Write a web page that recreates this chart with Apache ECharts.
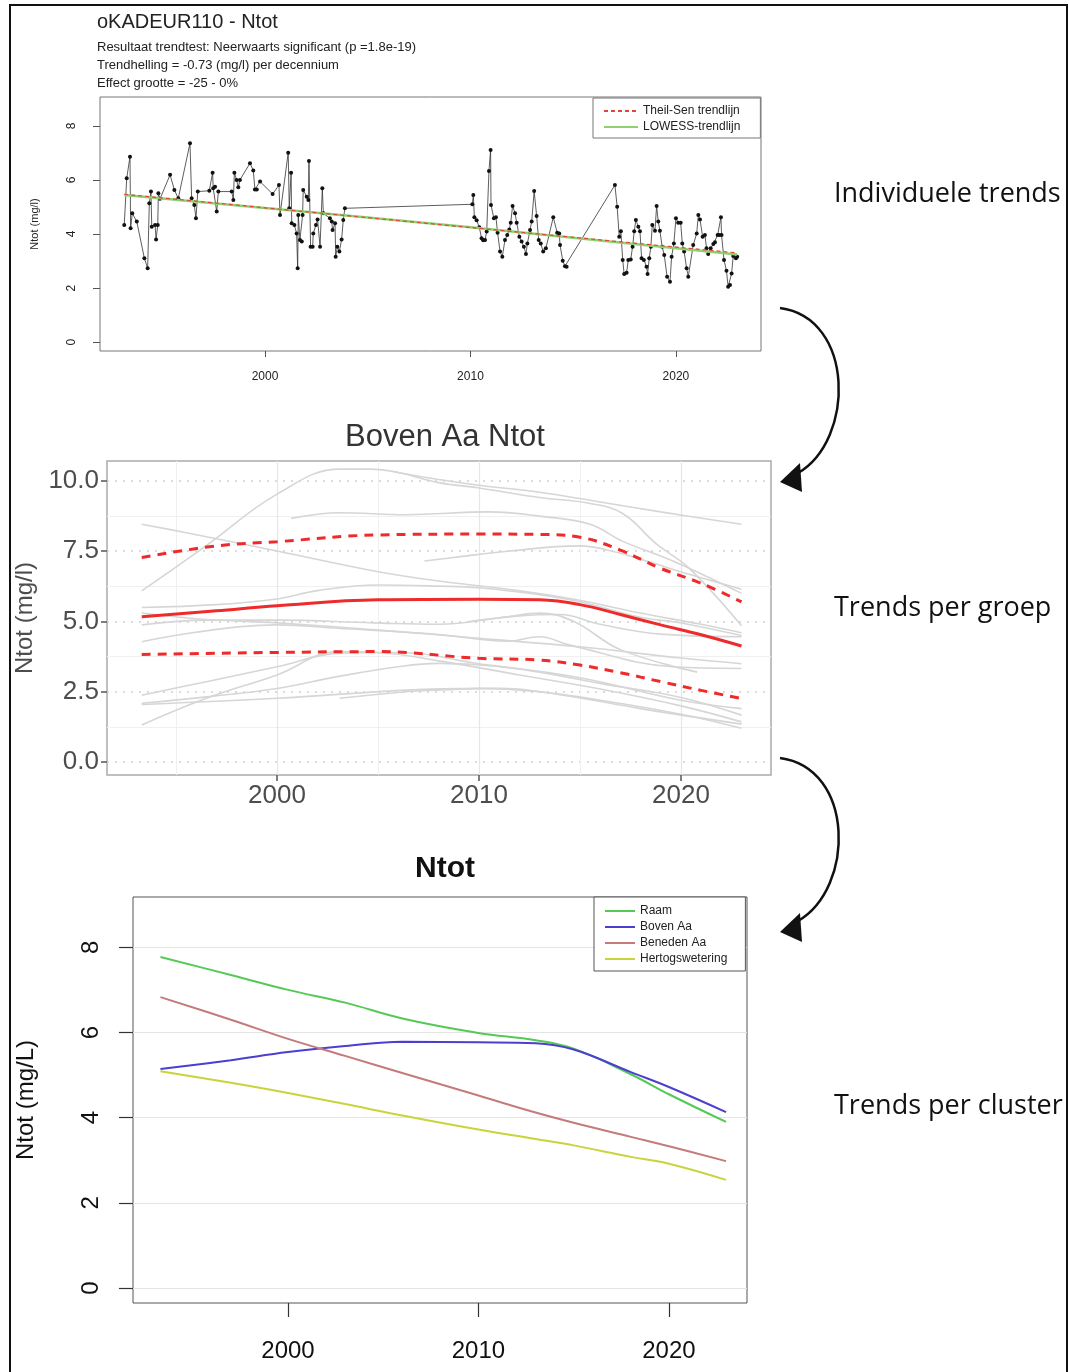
<!DOCTYPE html>
<html>
<head>
<meta charset="utf-8">
<script src="https://cdn.jsdelivr.net/npm/echarts@6/dist/echarts.min.js"></script>
<style>
  html, body { margin: 0; padding: 0; background: #fff; }
  #chart { width: 1069px; height: 1372px; }
</style>
</head>
<body>
<div id="chart"></div>
<script>
// ---- paneel 1: meetpunt oKADEUR110 ----
var obsYear = [1993.15,1993.27,1993.43,1993.46,1993.54,1993.76,1994.13,1994.29,1994.37,1994.45,1994.49,1994.65,1994.70,1994.78,1994.81,1994.89,
  1995.38,1995.59,1995.78,1996.35,1996.43,1996.56,1996.64,1996.73,1997.29,1997.45,1997.48,1997.57,1997.65,1997.73,1998.38,1998.46,1998.51,
  1998.62,1998.70,1998.78,1999.27,1999.43,1999.51,1999.60,1999.76,2000.37,2000.68,2000.73,2001.13,2001.18,2001.27,2001.30,2001.43,2001.54,
  2001.59,2001.62,2001.70,2001.79,2001.83,2001.86,2002.03,2002.11,2002.14,2002.22,2002.32,2002.35,2002.48,2002.56,2002.68,2002.79,2002.84,
  2003.16,2003.25,2003.29,2003.41,2003.44,2003.52,2003.62,2003.73,2003.81,2003.89,
  2010.09,2010.14,2010.19,2010.30,2010.43,2010.54,2010.62,2010.71,2010.79,2010.90,2010.98,2011.00,2011.14,2011.24,2011.32,2011.44,2011.55,
  2011.68,2011.79,2011.89,2011.96,2012.05,2012.17,2012.25,2012.38,2012.49,2012.60,2012.70,2012.77,2012.90,2012.98,2013.10,2013.22,2013.32,
  2013.42,2013.54,2013.67,2014.03,2014.22,2014.32,2014.36,2014.49,2014.60,2014.68,
  2017.03,2017.14,2017.24,2017.32,2017.41,2017.48,2017.60,2017.68,2017.80,2017.89,2017.97,2018.05,2018.17,2018.25,2018.33,2018.44,2018.57,
  2018.62,2018.70,2018.78,2018.85,2018.98,2019.06,2019.14,2019.22,2019.33,2019.43,2019.57,2019.71,2019.79,2019.90,2020.00,2020.11,2020.23,
  2020.31,2020.40,2020.52,2020.60,2020.84,2021.01,2021.09,2021.17,2021.30,2021.41,2021.49,2021.57,2021.69,2021.82,2021.90,2022.03,2022.11,
  2022.19,2022.22,2022.34,2022.46,2022.54,2022.63,2022.71,2022.79,2022.92,2022.98];
var obsNtot = [4.33,6.06,6.86,4.21,4.77,4.46,3.10,2.73,5.14,5.57,4.27,4.33,3.80,4.33,5.51,5.30,
  6.19,5.63,5.32,7.36,5.32,5.07,4.58,5.57,5.60,6.27,5.69,5.75,4.83,5.57,5.57,5.26,6.27,
  6.00,5.73,6.00,6.62,6.35,5.65,5.65,5.94,5.48,5.81,4.70,7.01,4.95,6.27,4.40,4.33,4.02,
  2.73,4.70,3.78,3.72,4.70,5.63,5.38,5.26,6.70,3.53,3.53,4.02,4.33,4.54,3.53,5.69,4.77,
  4.58,4.46,4.15,4.40,3.16,3.53,3.35,3.80,4.52,4.95,
  5.10,5.44,4.62,4.51,4.25,3.84,3.77,3.78,4.09,6.33,7.11,5.07,4.58,4.62,4.05,3.35,3.16,
  3.78,3.96,4.17,4.42,5.04,4.77,4.42,3.90,3.72,3.53,3.26,3.65,4.15,4.46,5.59,4.67,3.78,
  3.65,3.35,3.47,4.62,4.05,4.02,3.59,3.01,2.81,2.79,
  5.81,5.01,3.90,4.10,3.04,2.52,2.57,3.04,3.06,3.53,4.10,4.52,4.27,4.10,3.10,3.04,2.79,
  2.52,3.10,3.53,4.33,4.12,5.04,4.46,4.12,3.53,3.22,2.42,2.23,3.16,3.65,4.58,4.42,4.42,
  3.65,3.35,2.73,2.42,3.59,4.02,4.70,4.54,3.90,3.96,3.47,3.26,3.47,3.63,3.69,3.96,3.96,
  4.62,3.96,3.04,2.64,2.05,2.11,2.54,3.19,3.10,3.16];
var trendYear = [1993.15, 2000, 2010, 2022.98];
var theilSen = [5.47, 4.97, 4.24, 3.30];
var lowess = [5.44, 4.96, 4.25, 3.24];

// ---- paneel 2: Boven Aa, trends per meetpunt ----
var groepYear = [1993.3, 1997, 2000, 2005, 2010, 2013, 2015, 2017, 2019, 2021, 2023];
var groepMediaan = [5.17, 5.38, 5.56, 5.77, 5.79, 5.77, 5.60, 5.25, 4.88, 4.53, 4.13];
var groepBoven = [7.28, 7.69, 7.84, 8.08, 8.11, 8.10, 8.00, 7.54, 6.89, 6.36, 5.70];
var groepOnder = [3.83, 3.87, 3.90, 3.93, 3.69, 3.63, 3.45, 3.18, 2.86, 2.55, 2.26];
var groepLijnen = [
  [[1993.3,6.09],[1996.5,7.7],[2000,9.53],[2003.1,10.42],[2004.6,10.42],[2006,10.3],[2008,9.94],[2010,9.75],[2013,9.41],[2015.5,9.2],[2017.1,8.85],[2018.8,7.75],[2020.4,6.9],[2023,4.85]],
  [[2005.8,10.33],[2008,10.05],[2010,9.85],[2013,9.6],[2016,9.25],[2019,8.9],[2023,8.46]],
  [[1993.3,8.46],[1995.5,8.16],[2000,7.51],[2004.8,6.8],[2008,6.44],[2011.4,6.15],[2014.7,5.79],[2018,5.3],[2021,4.9],[2023,4.6]],
  [[2000.7,8.67],[2003.1,8.87],[2006.4,8.8],[2010.5,8.9],[2013,8.75],[2015.5,8.46],[2017.1,7.86],[2019.6,7.15],[2023,6.0]],
  [[2007.3,7.15],[2009,7.3],[2011.4,7.5],[2015,7.69],[2016.6,7.5],[2018.3,7.15],[2020.4,6.68],[2023,6.15]],
  [[1993.3,5.5],[1997,5.6],[2000,5.8],[2002,6.1],[2005,6.3],[2008,6.26],[2010,6.2],[2013,5.95],[2015,5.7],[2018,5.15],[2020,4.95],[2023,4.5]],
  [[1993.3,4.88],[1996.5,5.05],[2000,5.05],[2004.8,4.95],[2008,4.9],[2011.4,5.17],[2013,5.3],[2014.7,5.0],[2017,4.0],[2020.8,3.2]],
  [[1993.3,4.28],[2000,4.88],[2003,4.76],[2008,4.54],[2011.4,4.3],[2013,4.46],[2014.5,4.16],[2019.6,3.39],[2023,3.33]],
  [[1993.3,5.3],[1996,5.1],[2000,4.95],[2005,4.7],[2010,4.4],[2015,4.1],[2020,3.7],[2023,3.5]],
  [[2009.5,5.0],[2012,5.2],[2014,5.25],[2016,4.9],[2019,4.55],[2023,4.46]],
  [[1993.3,2.38],[1996.5,2.86],[2000,3.39],[2003.1,3.87],[2006,3.9],[2010,3.5],[2013,3.2],[2016,2.8],[2020,2.3],[2023,1.67]],
  [[1993.3,2.09],[1996.5,2.32],[2000,2.62],[2003,3.04],[2006,3.39],[2008,3.51],[2011,3.4],[2015,3.0],[2020,2.2],[2023,1.9]],
  [[1993.3,1.32],[1996.5,2.27],[2000,3.1],[2003,3.93],[2005,3.9],[2008,3.6],[2012,3.1],[2016,2.6],[2020,2.0],[2023,1.43]],
  [[1993.3,2.05],[2000,2.27],[2006.4,2.56],[2010,2.62],[2013,2.5],[2016,2.2],[2020,1.7],[2023,1.2]],
  [[2003.1,2.27],[2006.4,2.5],[2008,2.56],[2011,2.62],[2014,2.4],[2018,1.9],[2023,1.35]]
];

// ---- paneel 3: trends per cluster ----
var clusterYear = [1993.3, 1997, 2000, 2003, 2006, 2010, 2013, 2015, 2018, 2020, 2023];
var clusterNames = ['Raam', 'Boven Aa', 'Beneden Aa', 'Hertogswetering'];
var raam = [7.77, 7.35, 7.00, 6.70, 6.33, 5.99, 5.82, 5.62, 5.02, 4.55, 3.90];
var bovenAa = [5.14, 5.35, 5.54, 5.68, 5.78, 5.77, 5.75, 5.60, 5.07, 4.72, 4.13];
var benedenAa = [6.83, 6.30, 5.85, 5.45, 5.05, 4.52, 4.12, 3.88, 3.55, 3.33, 2.98];
var hertogswetering = [5.09, 4.82, 4.58, 4.32, 4.05, 3.72, 3.50, 3.35, 3.08, 2.92, 2.54];
var clusterColors = ['#55c955', '#4b3fd0', '#c47b7b', '#c9d43d'];

function zip(xs, ys) { return xs.map(function (x, i) { return [x, ys[i]]; }); }

var FONT = 'Liberation Sans';
var redCol = '#ee2a2a';

var chart = echarts.init(document.getElementById('chart'), null, { renderer: 'canvas' });

var series = [];
// paneel 1
series.push({ type: 'line', xAxisIndex: 0, yAxisIndex: 0, data: zip(obsYear, obsNtot),
  symbol: 'circle', symbolSize: 4, itemStyle: { color: '#111' },
  lineStyle: { color: '#333', width: 0.8 }, z: 2 });
series.push({ name: 'LOWESS-trendlijn', type: 'line', xAxisIndex: 0, yAxisIndex: 0, data: zip(trendYear, lowess),
  symbol: 'none', smooth: true, lineStyle: { color: '#8fd16f', width: 2.5 }, itemStyle: { color: '#8fd16f' }, z: 3 });
series.push({ name: 'Theil-Sen trendlijn', type: 'line', xAxisIndex: 0, yAxisIndex: 0, data: zip(trendYear, theilSen),
  symbol: 'none', lineStyle: { color: '#e0463c', width: 1.2, type: [4, 3] }, itemStyle: { color: '#e0463c' }, z: 4 });
// paneel 2
groepLijnen.forEach(function (l) {
  series.push({ type: 'line', xAxisIndex: 1, yAxisIndex: 1, data: l, symbol: 'none', smooth: 0.4,
    lineStyle: { color: '#d6d6d6', width: 1.6 }, silent: true, z: 2 });
});
series.push({ type: 'line', xAxisIndex: 1, yAxisIndex: 1, data: zip(groepYear, groepMediaan), symbol: 'none', smooth: 0.4,
  lineStyle: { color: redCol, width: 3 }, z: 5 });
series.push({ type: 'line', xAxisIndex: 1, yAxisIndex: 1, data: zip(groepYear, groepBoven), symbol: 'none', smooth: 0.4,
  lineStyle: { color: redCol, width: 3, type: [9, 7] }, z: 5 });
series.push({ type: 'line', xAxisIndex: 1, yAxisIndex: 1, data: zip(groepYear, groepOnder), symbol: 'none', smooth: 0.4,
  lineStyle: { color: redCol, width: 3, type: [9, 7] }, z: 5 });
// paneel 3
[raam, bovenAa, benedenAa, hertogswetering].forEach(function (vals, i) {
  series.push({ name: clusterNames[i], type: 'line', xAxisIndex: 3, yAxisIndex: 3, data: zip(clusterYear, vals),
    symbol: 'none', smooth: 0.4, lineStyle: { color: clusterColors[i], width: 2 }, itemStyle: { color: clusterColors[i] }, z: 3 });
});

var yearFmt = function (v) { return String(v); };

option = {
  animation: false,
  textStyle: { fontFamily: FONT },
  title: [
    { text: 'oKADEUR110 - Ntot', left: 92, top: 7, itemGap: 6,
      textStyle: { fontSize: 20, fontWeight: 'normal', color: '#222', fontFamily: FONT },
      subtext: 'Resultaat trendtest: Neerwaarts significant (p =1.8e-19)\nTrendhelling = -0.73 (mg/l) per decennium\nEffect grootte = -25 - 0%',
      subtextStyle: { fontSize: 13, color: '#222', lineHeight: 18, fontFamily: FONT } },
    { text: 'Boven Aa Ntot', left: 440, top: 417, textAlign: 'center',
      textStyle: { fontSize: 31, fontWeight: 'normal', color: '#333', fontFamily: FONT } },
    { text: 'Ntot', left: 440, top: 849, textAlign: 'center',
      textStyle: { fontSize: 30, fontWeight: 'bold', color: '#111', fontFamily: FONT } }
  ],
  legend: [
    { data: ['Theil-Sen trendlijn', 'LOWESS-trendlijn'], left: 593, top: 98, orient: 'vertical',
      selectedMode: false, backgroundColor: '#fff', borderColor: '#777', borderWidth: 1, borderRadius: 0,
      padding: [7, 20, 5, 10], itemGap: 4, itemWidth: 34, itemHeight: 12, itemStyle: { opacity: 0 },
      textStyle: { fontSize: 12, color: '#222', fontFamily: FONT } },
    { data: clusterNames, left: 594, top: 897, orient: 'vertical',
      selectedMode: false, backgroundColor: '#fff', borderColor: '#555', borderWidth: 1, borderRadius: 0,
      padding: [8, 18, 6, 10], itemGap: 4, itemWidth: 30, itemHeight: 12, itemStyle: { opacity: 0 },
      textStyle: { fontSize: 12, color: '#222', fontFamily: FONT } }
  ],
  grid: [
    { left: 100, top: 97, width: 661, height: 254, show: true, borderColor: '#777', borderWidth: 1, backgroundColor: '#fff' },
    { left: 107, top: 461, width: 664, height: 314, show: true, borderColor: '#aaa', borderWidth: 1.5, backgroundColor: '#fff' },
    { left: 133, top: 897, width: 614, height: 406, show: true, borderColor: '#555', borderWidth: 1, backgroundColor: '#fff' }
  ],
  xAxis: [
    { type: 'value', gridIndex: 0, min: 1991.97, max: 2024.14,
      axisLine: { show: false, onZero: false }, splitLine: { show: false },
      axisTick: { customValues: [2000, 2010, 2020], length: 6, lineStyle: { color: '#555' } },
      axisLabel: { customValues: [2000, 2010, 2020], formatter: yearFmt, fontSize: 12, color: '#222', margin: 20 } },
    { type: 'value', gridIndex: 1, min: 1991.58, max: 2024.46,
      axisLine: { show: false, onZero: false },
      axisTick: { customValues: [2000, 2010, 2020], length: 6, lineStyle: { color: '#555', width: 1.5 } },
      splitLine: { show: true, lineStyle: { color: '#e6e6e6', width: 1.2 } },
      axisLabel: { customValues: [2000, 2010, 2020], formatter: yearFmt, fontSize: 26, color: '#4d4d4d', margin: 8 } },
    { type: 'value', gridIndex: 1, min: 1991.58, max: 2024.46, position: 'top',
      axisLine: { show: false, onZero: false }, axisLabel: { show: false },
      axisTick: { show: false, customValues: [1995, 2005, 2015] },
      splitLine: { show: true, lineStyle: { color: '#f0f0f0', width: 1 } } },
    { type: 'value', gridIndex: 2, min: 1991.86, max: 2024.1,
      axisLine: { show: false, onZero: false }, splitLine: { show: false },
      axisTick: { customValues: [2000, 2010, 2020], length: 14, lineStyle: { color: '#333', width: 1.2 } },
      axisLabel: { customValues: [2000, 2010, 2020], formatter: yearFmt, fontSize: 24, color: '#111', margin: 36 } }
  ],
  yAxis: [
    { type: 'value', gridIndex: 0, min: -0.33, max: 9.07,
      name: 'Ntot (mg/l)', nameLocation: 'middle', nameGap: 60, nameRotate: 90,
      nameTextStyle: { fontSize: 11, color: '#222', fontFamily: FONT },
      axisLine: { show: false, onZero: false }, splitLine: { show: false },
      axisTick: { customValues: [0, 2, 4, 6, 8], length: 7, lineStyle: { color: '#555' } },
      axisLabel: { customValues: [0, 2, 4, 6, 8], rotate: 90, fontSize: 12, color: '#222', margin: 22 } },
    { type: 'value', gridIndex: 1, min: -0.46, max: 10.71,
      name: 'Ntot (mg/l)', nameLocation: 'middle', nameGap: 67, nameRotate: 90,
      nameTextStyle: { fontSize: 24, color: '#4d4d4d', fontFamily: FONT },
      axisLine: { show: false, onZero: false },
      axisTick: { customValues: [0, 2.5, 5, 7.5, 10], length: 6, lineStyle: { color: '#555', width: 1.5 } },
      splitLine: { show: true, lineStyle: { color: '#cfcfcf', width: 1.5, type: [2, 6] } },
      axisLabel: { customValues: [0, 2.5, 5, 7.5, 10], formatter: function (v) { return v.toFixed(1); },
        fontSize: 26, color: '#4d4d4d', margin: 8 } },
    { type: 'value', gridIndex: 1, min: -0.46, max: 10.71, position: 'right',
      axisLine: { show: false, onZero: false }, axisLabel: { show: false },
      axisTick: { show: false, customValues: [1.25, 3.75, 6.25, 8.75] },
      splitLine: { show: true, lineStyle: { color: '#f0f0f0', width: 1 } } },
    { type: 'value', gridIndex: 2, min: -0.35, max: 9.18,
      name: 'Ntot (mg/L)', nameLocation: 'middle', nameGap: 95, nameRotate: 90,
      nameTextStyle: { fontSize: 24, color: '#111', fontFamily: FONT },
      axisLine: { show: false, onZero: false },
      axisTick: { customValues: [0, 2, 4, 6, 8], length: 14, lineStyle: { color: '#333', width: 1.2 } },
      splitLine: { show: true, lineStyle: { color: '#e4e4e4', width: 1 } },
      axisLabel: { customValues: [0, 2, 4, 6, 8], rotate: 90, fontSize: 24, color: '#111', margin: 30 } }
  ],
  graphic: [
    { type: 'rect', shape: { x: 10, y: 5, width: 1057, height: 1380 }, style: { fill: 'none', stroke: '#111', lineWidth: 2 }, silent: true, z: 100 },
    { type: 'text', left: 834, top: 181, style: { text: 'Individuele trends', fontSize: 27, fill: '#111', fontFamily: 'Open Sans' } },
    { type: 'text', left: 834, top: 595, style: { text: 'Trends per groep', fontSize: 27, fill: '#111', fontFamily: 'Open Sans' } },
    { type: 'text', left: 834, top: 1093, style: { text: 'Trends per cluster', fontSize: 27, fill: '#111', fontFamily: 'Open Sans' } },
    { type: 'bezierCurve', shape: { x1: 780, y1: 308, x2: 798, y2: 473, cpx1: 855, cpy1: 318, cpx2: 855, cpy2: 440 },
      style: { stroke: '#111', lineWidth: 2.5, fill: 'none' } },
    { type: 'polygon', shape: { points: [[780, 482], [800, 463], [802, 492]] }, style: { fill: '#111' } },
    { type: 'bezierCurve', shape: { x1: 780, y1: 758, x2: 798, y2: 921, cpx1: 855, cpy1: 768, cpx2: 855, cpy2: 888 },
      style: { stroke: '#111', lineWidth: 2.5, fill: 'none' } },
    { type: 'polygon', shape: { points: [[780, 932], [800, 913], [802, 942]] }, style: { fill: '#111' } }
  ],
  series: series
};

chart.setOption(option);
</script>
</body>
</html>
